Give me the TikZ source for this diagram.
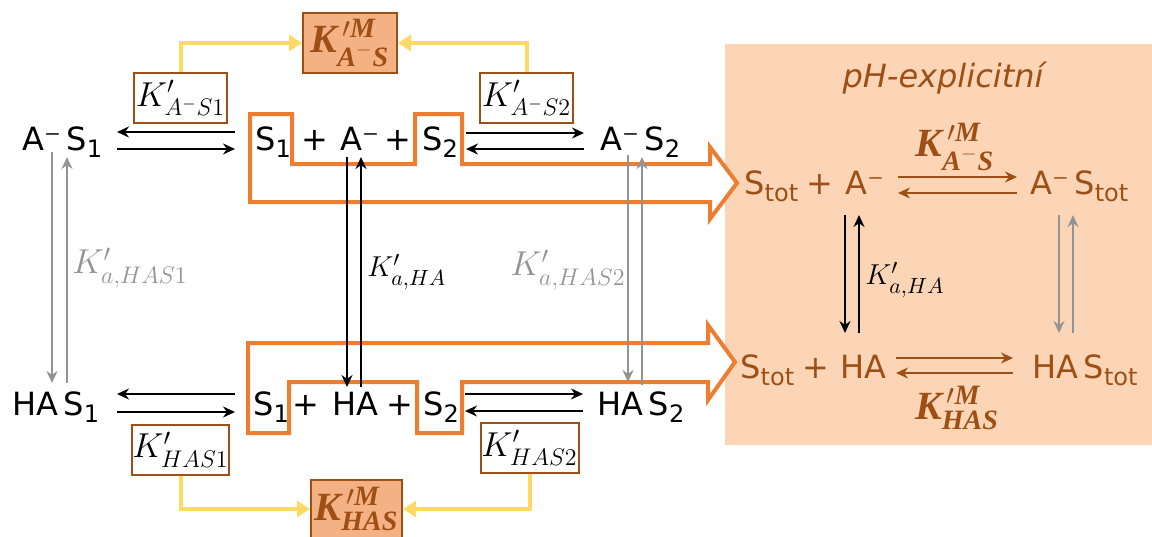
\documentclass[tikz,border=0pt]{standalone}
\usepackage[no-math]{fontspec}
\setmainfont{DejaVu Sans}
\newfontfamily\kfont{Liberation Serif}
\usepackage{amsmath}
\usepackage{xcolor}
\usetikzlibrary{arrows.meta}
\definecolor{brownk}{HTML}{9E4F16}
\definecolor{boxfill}{HTML}{F4B183}
\definecolor{panelc}{HTML}{FBD5B5}
\definecolor{orangec}{HTML}{ED7D31}
\definecolor{yellowc}{HTML}{FFD966}
\definecolor{grayc}{HTML}{939393}
\newcommand{\subtxt}[1]{\raisebox{-3.5pt}{\fontsize{12}{13}\selectfont #1}}
\newcommand{\bk}[1]{\text{\kfont\bfseries\itshape #1}}

\begin{document}
\begin{tikzpicture}[x=0.5pt, y=-0.5pt,
    sp/.style={font=\fontsize{16}{18}\selectfont, inner sep=0pt, anchor=base west},
    kbox/.style={draw=brownk, line width=1pt, fill=white, inner sep=0pt, minimum width=46.5pt, minimum height=25pt, font=\fontsize{17}{18}\selectfont},
    kmbox/.style={kbox, fill=boxfill, text=brownk, minimum width=47pt, minimum height=30pt, font=\fontsize{20}{22}\selectfont},
    rx/.style={-{Stealth[length=6pt,width=5.5pt]}, line width=0.9pt},
    grx/.style={rx, draw=grayc, line width=0.8pt},
    link/.style={draw=yellowc, line width=2pt, -{Triangle[length=6.5pt,width=8pt]}},
    outl/.style={draw=orangec, line width=2pt, fill=white, line join=miter},
    lab/.style={anchor=west, inner sep=0pt, font=\fontsize{17}{18}\selectfont}]
    \useasboundingbox (0,0) rectangle (1152,536);

    % pH-explicit panel
    \fill[panelc] (725,44) rectangle (1152,445);
    \node[font=\fontsize{16}{18}\selectfont\itshape, text=brownk] (title) at (943,78) {pH-explicitní};

    % Orange outlines
    \draw[outl] (250,114) -- (292,114) -- (292,164) -- (415,164) -- (415,114) -- (462,114) -- (462,164) -- (710,164) -- (710,147) -- (737,183) -- (710,219) -- (710,202) -- (250,202) -- cycle;
    \draw[outl] (248,343) -- (708,343) -- (708,325) -- (735,362) -- (708,400) -- (708,382) -- (462,382) -- (462,433) -- (417,433) -- (417,382) -- (289,382) -- (289,433) -- (248,433) -- cycle;

    % Left column
    \node[sp] (AS1) at (22,150) {A⁻\,S\subtxt{1}};
    \node[sp] (HAS1) at (12,415) {HA\,S\subtxt{1}};

    % Middle rows
    \node[sp] (S1t) at (255,150) {S\subtxt{1}};
    \node[sp] (pl1) at (301,150) {+};
    \node[sp] (At) at (340,150) {A⁻};
    \node[sp] (pl2) at (384,150) {+};
    \node[sp] (S2t) at (422,150) {S\subtxt{2}};
    \node[sp] (S1b) at (253,415) {S\subtxt{1}};
    \node[sp] (pl3) at (292,415) {+};
    \node[sp] (HAb) at (332,415) {HA};
    \node[sp] (pl4) at (386,415) {+};
    \node[sp] (S2b) at (423,415) {S\subtxt{2}};

    % Right column
    \node[sp] (AS2) at (600,150) {A⁻\,S\subtxt{2}};
    \node[sp] (HAS2) at (597,415) {HA\,S\subtxt{2}};

    % Panel species
    \node[sp, text=brownk] (pS1) at (744,194) {S\subtxt{tot}};
    \node[sp, text=brownk] (ppl1) at (806,194) {+};
    \node[sp, text=brownk] (pA) at (845,194) {A⁻};
    \node[sp, text=brownk] (pAS) at (1030,194) {A⁻\,S\subtxt{tot}};
    \node[sp, text=brownk] (pS2) at (740,378) {S\subtxt{tot}};
    \node[sp, text=brownk] (ppl2) at (802,378) {+};
    \node[sp, text=brownk] (pHA) at (840,378) {HA};
    \node[sp, text=brownk] (pHAS) at (1032,378) {HA\,S\subtxt{tot}};

    % Reaction arrows, top
    \draw[rx] ([xshift=-10pt,yshift=9pt]S1t.base west) -- ([xshift=47.5pt,yshift=9pt]AS1.base west);
    \draw[rx] ([xshift=47.5pt,yshift=0.5pt]AS1.base west) -- ([xshift=-10pt,yshift=0.5pt]S1t.base west);
    \draw[rx] ([xshift=22pt,yshift=8.5pt]S2t.base west) -- ([xshift=-8pt,yshift=8.5pt]AS2.base west);
    \draw[rx] ([xshift=-8pt,yshift=0.5pt]AS2.base west) -- ([xshift=22pt,yshift=0.5pt]S2t.base west);

    % Reaction arrows, bottom
    \draw[rx] ([xshift=-9pt,yshift=10.5pt]S1b.base west) -- ([xshift=52.5pt,yshift=10.5pt]HAS1.base west);
    \draw[rx] ([xshift=52.5pt,yshift=1.5pt]HAS1.base west) -- ([xshift=-9pt,yshift=1.5pt]S1b.base west);
    \draw[rx] ([xshift=21pt,yshift=10.5pt]S2b.base west) -- ([xshift=-7pt,yshift=10.5pt]HAS2.base west);
    \draw[rx] ([xshift=-7pt,yshift=2pt]HAS2.base west) -- ([xshift=21pt,yshift=2pt]S2b.base west);

    % Acid-base arrows
    \draw[rx] ([xshift=3.5pt,yshift=-3.5pt]At.base west) -- ([xshift=7.5pt,yshift=14pt]HAb.base west);
    \draw[rx] ([xshift=14.5pt,yshift=14pt]HAb.base west) -- ([xshift=10.5pt,yshift=-3.5pt]At.base west);
    \draw[grx] ([xshift=15pt,yshift=-1pt]AS1.base west) -- ([xshift=20pt,yshift=16pt]HAS1.base west);
    \draw[grx] ([xshift=27.5pt,yshift=16pt]HAS1.base west) -- ([xshift=22.5pt,yshift=-3.5pt]AS1.base west);
    \draw[grx] ([xshift=14pt,yshift=-2.5pt]AS2.base west) -- ([xshift=15.5pt,yshift=16.5pt]HAS2.base west);
    \draw[grx] ([xshift=22.5pt,yshift=15pt]HAS2.base west) -- ([xshift=21pt,yshift=-3.5pt]AS2.base west);

    % Panel arrows
    \draw[rx, brownk] ([xshift=26.5pt,yshift=8.5pt]pA.base west) -- ([xshift=-6.5pt,yshift=8.5pt]pAS.base west);
    \draw[rx, brownk] ([xshift=-6.5pt,yshift=0.5pt]pAS.base west) -- ([xshift=26.5pt,yshift=0.5pt]pA.base west);
    \draw[rx, brownk] ([xshift=28pt,yshift=10pt]pHA.base west) -- ([xshift=-9.5pt,yshift=10pt]pHAS.base west);
    \draw[rx, brownk] ([xshift=-9.5pt,yshift=2.5pt]pHAS.base west) -- ([xshift=28pt,yshift=2.5pt]pHA.base west);
    \draw[rx] ([xshift=0pt,yshift=-10.5pt]pA.base west) -- ([xshift=2.5pt,yshift=22.5pt]pHA.base west);
    \draw[rx] ([xshift=9.5pt,yshift=22.5pt]pHA.base west) -- ([xshift=7pt,yshift=-10.5pt]pA.base west);
    \draw[grx] ([xshift=14.5pt,yshift=-10.5pt]pAS.base west) -- ([xshift=13.5pt,yshift=22.5pt]pHAS.base west);
    \draw[grx] ([xshift=20.5pt,yshift=22.5pt]pHAS.base west) -- ([xshift=21.5pt,yshift=-10.5pt]pAS.base west);

    % Constants
    \node[lab, font=\fontsize{15}{16}\selectfont] (kaHA) at (367,272) {$K'_{a,HA}$};
    \node[lab, font=\fontsize{15}{16}\selectfont] (kaHAp) at (865,280) {$K'_{a,HA}$};
    \node[lab, text=grayc] (kaHAS1) at (72,268) {$K'_{a,HAS1}$};
    \node[lab, text=grayc] (kaHAS2) at (510,270) {$K'_{a,HAS2}$};
    \node[text=brownk, font=\fontsize{20}{22}\selectfont] (kMASp) at (955,147) {$\bk{K}^{\,\prime\bk{M}}_{\bk{A}^-\bk{S}}$};
    \node[text=brownk, font=\fontsize{20}{22}\selectfont] (kMHASp) at (957,408) {$\bk{K}^{\,\prime\bk{M}}_{\bk{HAS}}$};

    % Boxes and links
    \node[kbox] (kAS1) at (180.5,98) {$K'_{A^-S1}$};
    \node[kbox] (kAS2) at (526.5,98) {$K'_{A^-S2}$};
    \node[kbox] (kHAS1) at (180.5,449.5) {$K'_{HAS1}$};
    \node[kbox, minimum width=49pt] (kHAS2) at (529.5,448) {$K'_{HAS2}$};
    \node[kmbox] (kMAS) at (350,43) {$\bk{K}^{\,\prime\bk{M}}_{\bk{A}^-\bk{S}}$};
    \node[kmbox, minimum width=45.5pt, minimum height=29pt] (kMHAS) at (356.5,509) {$\bk{K}^{\,\prime\bk{M}}_{\bk{HAS}}$};
    \draw[link] (kAS1.north) |- (kMAS.west);
    \draw[link] (kAS2.north) |- (kMAS.east);
    \draw[link] (kHAS1.south) |- (kMHAS.west);
    \draw[link] (kHAS2.south) |- (kMHAS.east);
\end{tikzpicture}
\end{document}
